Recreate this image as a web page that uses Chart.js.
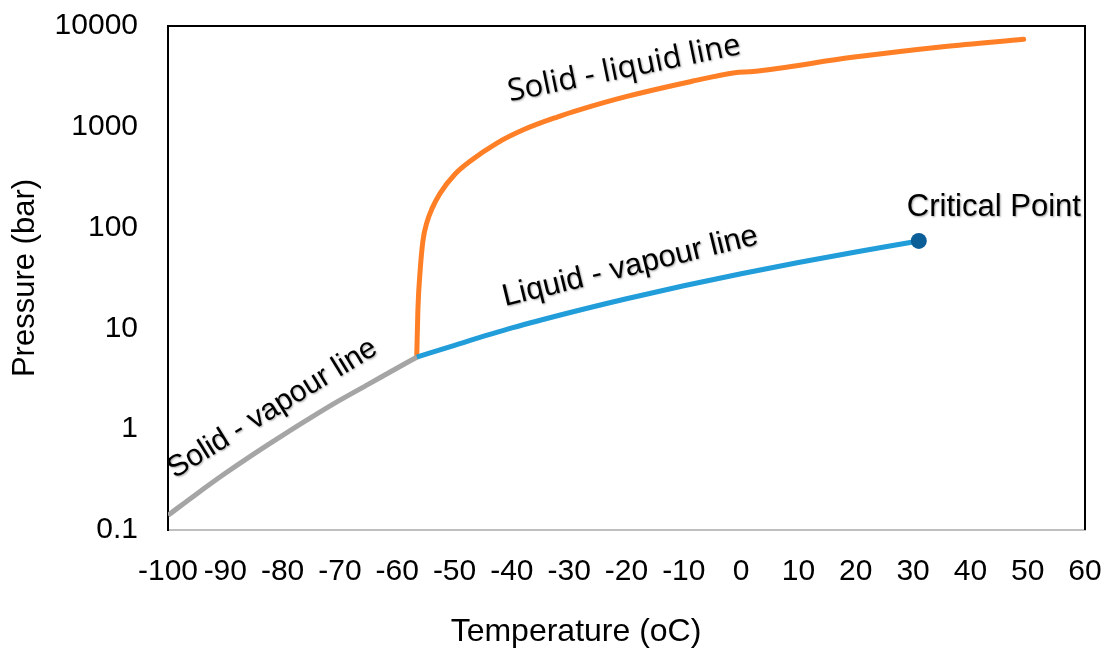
<!DOCTYPE html>
<html>
<head>
<meta charset="utf-8">
<script src="https://cdn.jsdelivr.net/npm/chart.js@4.4.1/dist/chart.umd.min.js"></script>
<style>
html,body{margin:0;padding:0;background:#fff;}
#wrap{width:1110px;height:649px;}
</style>
</head>
<body>
<div id="wrap"><canvas id="c" width="1110" height="649"></canvas></div>
<script>
// ---- data (temperature in °C, pressure in bar) ----
const solidVapourT = [-100, -95, -90, -85, -80, -75, -70, -65, -60, -56.6];
const solidVapourP = [0.14, 0.228, 0.365, 0.57, 0.87, 1.31, 1.94, 2.8, 4.05, 5.18];

const liquidVapourT = [-56.6, -50, -40, -30, -20, -10, 0, 10, 20, 30, 31];
const liquidVapourP = [5.18, 6.8, 10.1, 14.3, 19.7, 26.5, 34.9, 45.0, 57.3, 72.1, 73.8];

const solidLiquidT = [-56.6, -56.4, -56.0, -55.5, -54.8, -53.9, -52.5, -49.9, -47.3, -42.6, -38.1, -32.1, -28.1, -20.1, -8.9, -1.1, 2.1, 19.4, 35.2, 49.3];
const solidLiquidP = [5.18, 15.2, 37.9, 75.3, 114, 156, 220, 340, 455, 690, 929, 1250, 1480, 1990, 2800, 3440, 3540, 4890, 6240, 7380];

const criticalT = [31];
const criticalP = [73.8];

const xTicks = [-100, -90, -80, -70, -60, -50, -40, -30, -20, -10, 0, 10, 20, 30, 40, 50, 60];
const yTicks = [0.1, 1, 10, 100, 1000, 10000];
const yTickLabels = ['0.1', '1', '10', '100', '1000', '10000'];

const xTitle = 'Temperature (oC)';
const yTitle = 'Pressure (bar)';

const labelTexts = ['Solid - liquid line', 'Liquid - vapour line', 'Solid - vapour line', 'Critical Point'];
const labelAnchorT = [-20.1, -19.0, -81.0, 44.1];
const labelAnchorP = [3083, 33.9, 1.36, 130];

// ---- styling / placement (not data) ----
const labelAngles = [-11.6, -13.7, -31.7, 0];
const labelFonts = ['31px "Open Sans"', '31px "Liberation Sans"', '30px "Liberation Sans"', '31px "Liberation Sans"'];

const toPoints = (xs, ys) => xs.map((x, i) => ({x: x, y: ys[i]}));

Chart.defaults.color = '#000';
Chart.defaults.font.family = '"Liberation Sans", Arial, sans-serif';

const annotationPlugin = {
  id: 'phaseAnnotations',
  beforeDatasetsDraw(chart) {
    const {ctx, chartArea: a} = chart;
    ctx.save();
    ctx.strokeStyle = '#000';
    ctx.lineWidth = 2;
    ctx.beginPath();
    ctx.moveTo(a.left, a.top);
    ctx.lineTo(a.right, a.top);
    ctx.lineTo(a.right, a.bottom);
    ctx.stroke();
    ctx.restore();
  },
  afterDatasetsDraw(chart) {
    const {ctx} = chart;
    const xs = chart.scales.x, ys = chart.scales.y;
    ctx.save();
    ctx.fillStyle = '#000';
    ctx.textAlign = 'center';
    ctx.textBaseline = 'alphabetic';
    labelTexts.forEach((t, i) => {
      const px = xs.getPixelForValue(labelAnchorT[i]);
      const py = ys.getPixelForValue(labelAnchorP[i]);
      ctx.save();
      ctx.translate(px, py);
      ctx.rotate(labelAngles[i] * Math.PI / 180);
      ctx.font = labelFonts[i];
      ctx.shadowColor = 'rgba(0,0,0,0.35)';
      ctx.shadowBlur = 2;
      ctx.shadowOffsetX = 1;
      ctx.shadowOffsetY = 1;
      ctx.fillText(t, 0, 0);
      ctx.restore();
    });
    // x-axis title
    ctx.font = '32px "Liberation Sans"';
    ctx.textBaseline = 'middle';
    ctx.fillText(xTitle, 576, 632);
    ctx.restore();
  }
};

new Chart(document.getElementById('c'), {
  type: 'line',
  data: {
    datasets: [
      {
        label: 'Critical point',
        data: toPoints(criticalT, criticalP),
        showLine: false,
        pointRadius: 8,
        pointBackgroundColor: '#0B5E98',
        pointBorderColor: '#0B5E98',
        pointBorderWidth: 0,
        order: 0
      },
      {
        label: 'Solid - vapour',
        data: toPoints(solidVapourT, solidVapourP),
        borderColor: '#A5A5A5',
        borderWidth: 5,
        pointRadius: 0,
        cubicInterpolationMode: 'monotone',
        order: 1
      },
      {
        label: 'Liquid - vapour',
        data: toPoints(liquidVapourT, liquidVapourP),
        borderColor: '#219DDA',
        borderWidth: 5,
        pointRadius: 0,
        cubicInterpolationMode: 'monotone',
        order: 2
      },
      {
        label: 'Solid - liquid',
        data: toPoints(solidLiquidT, solidLiquidP),
        borderColor: '#FF7F27',
        borderWidth: 5,
        pointRadius: 0,
        borderCapStyle: 'round',
        cubicInterpolationMode: 'monotone',
        order: 3
      }
    ]
  },
  options: {
    responsive: false,
    animation: false,
    devicePixelRatio: 1,
    layout: {padding: {left: 3, right: 25, top: 26, bottom: 59}},
    plugins: {legend: {display: false}, tooltip: {enabled: false}},
    scales: {
      x: {
        type: 'linear',
        min: -100,
        max: 60,
        afterBuildTicks: s => { s.ticks = xTicks.map(v => ({value: v})); },
        afterFit: s => { s.height = 60; s.paddingLeft = 0; s.paddingRight = 0; },
        ticks: {
          autoSkip: false,
          maxRotation: 0,
          minRotation: 0,
          padding: 24,
          font: {size: 30},
          color: '#000'
        },
        grid: {display: false, drawTicks: false},
        border: {display: true, color: '#BFBFBF', width: 2}
      },
      y: {
        type: 'logarithmic',
        min: 0.1,
        max: 10000,
        afterBuildTicks: s => { s.ticks = yTicks.map(v => ({value: v})); },
        afterFit: s => { s.width = 165; s.paddingTop = 0; s.paddingBottom = 0; },
        ticks: {
          autoSkip: false,
          padding: 30,
          font: {size: 30},
          color: '#000',
          callback: (v) => { const i = yTicks.indexOf(v); return i >= 0 ? yTickLabels[i] : ''; }
        },
        title: {display: true, text: yTitle, font: {size: 31}, color: '#000', padding: {top: 4, bottom: 10}},
        grid: {display: false, drawTicks: false},
        border: {display: true, color: '#000', width: 2}
      }
    }
  },
  plugins: [annotationPlugin]
});
</script>
</body>
</html>
